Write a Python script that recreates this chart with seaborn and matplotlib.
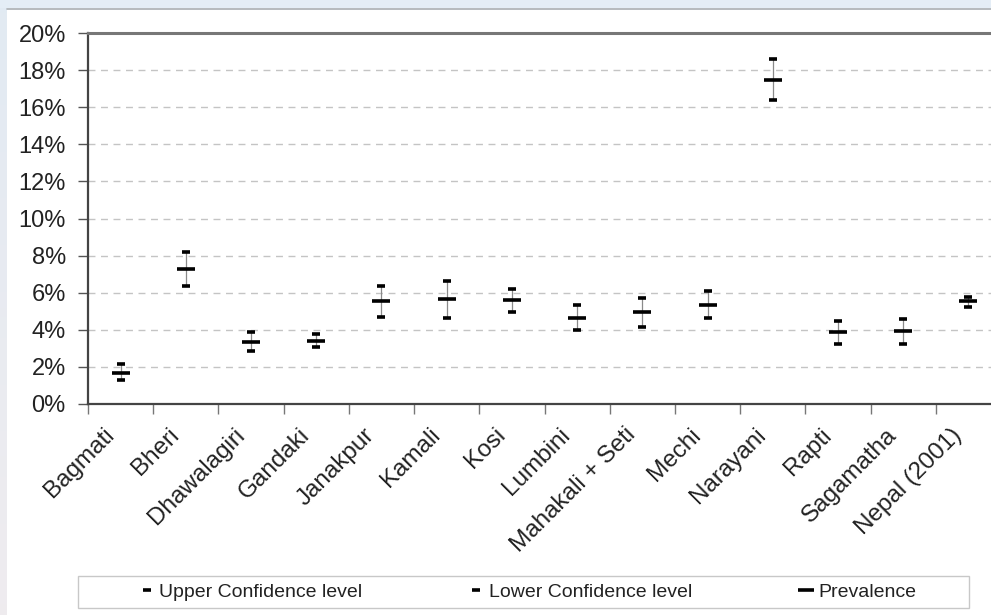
import numpy as np
import pandas as pd
import matplotlib
matplotlib.use("Agg")
import matplotlib.pyplot as plt
import matplotlib.transforms as mtransforms
from matplotlib.lines import Line2D
from matplotlib.patches import Rectangle
from matplotlib.ticker import FuncFormatter, FixedLocator
import seaborn as sns

# Prevalence by development region with 95% confidence limits
regions = ["Bagmati", "Bheri", "Dhawalagiri", "Gandaki", "Janakpur", "Kamali",
           "Kosi", "Lumbini", "Mahakali + Seti", "Mechi", "Narayani", "Rapti",
           "Sagamatha", "Nepal (2001)"]
prevalence = [1.69, 7.27, 3.32, 3.41, 5.55, 5.64, 5.62, 4.65, 4.94, 5.32,
              17.45, 3.86, 3.94, 5.55]
upper_cl = [2.14, 8.17, 3.86, 3.77, 6.37, 6.63, 6.22, 5.32, 5.70, 6.09,
            18.58, 4.49, 4.58, 5.77]
lower_cl = [1.29, 6.37, 2.87, 3.09, 4.71, 4.65, 4.94, 4.01, 4.17, 4.65,
            16.39, 3.25, 3.25, 5.25]
y_ticks = [0, 2, 4, 6, 8, 10, 12, 14, 16, 18, 20]
legend_labels = ["Upper Confidence level", "Lower Confidence level", "Prevalence"]

df = pd.DataFrame({
    "region": regions,
    "prevalence": np.array(prevalence) / 100,
    "upper": np.array(upper_cl) / 100,
    "lower": np.array(lower_cl) / 100,
})

sns.set_theme(style="white")
plt.rcParams["font.family"] = ["Liberation Sans", "DejaVu Sans"]

W, H = 991, 615
fig = plt.figure(figsize=(W / 100, H / 100), dpi=100, facecolor="white")

# Light frame around the white panel
fig.add_artist(Rectangle((0, 1 - 8 / H), 1, 8 / H, transform=fig.transFigure,
                         facecolor="#e4edf6", edgecolor="none", zorder=0))
fig.add_artist(Line2D([7 / W, 1], [1 - 8.5 / H, 1 - 8.5 / H], transform=fig.transFigure,
                      color="#a9aeb3", linewidth=1.2, zorder=1))
side = fig.add_axes([0, 0, 7 / W, 1 - 8 / H])
grad = np.linspace(0, 1, 256)[:, None, None]
top_c = np.array([0.886, 0.918, 0.953])
bot_c = np.array([0.937, 0.925, 0.937])
side.imshow(top_c * (1 - grad) + bot_c * grad, aspect="auto", extent=[0, 1, 0, 1])
side.set_axis_off()

ax = fig.add_axes([88 / W, 1 - 404 / H, (1001 - 88) / W, (404 - 33) / H])
ax.set_facecolor("white")

# Confidence range: thin vertical line from lower to upper limit
ax.vlines(df["region"], df["lower"], df["upper"], color="#8a8a8a", linewidth=0.9, zorder=2)

sns.scatterplot(data=df, x="region", y="upper", marker="_", s=30, linewidth=2.6,
                color="black", ax=ax, zorder=3, legend=False)
sns.scatterplot(data=df, x="region", y="lower", marker="_", s=30, linewidth=2.6,
                color="black", ax=ax, zorder=3, legend=False)
sns.scatterplot(data=df, x="region", y="prevalence", marker="_", s=150, linewidth=2.6,
                color="black", ax=ax, zorder=4, legend=False)

ax.set_xlim(-0.5, len(regions) - 0.5)
ax.set_ylim(0, 0.20)
ax.set_yticks(np.array(y_ticks) / 100)
ax.yaxis.set_major_formatter(FuncFormatter(lambda v, _: f"{v * 100:.0f}%"))
ax.set_xlabel("")
ax.set_ylabel("")

ax.yaxis.grid(True, linestyle=(0, (5, 4)), color="#c4c4c4", linewidth=1.0)
ax.set_axisbelow(True)

ax.tick_params(axis="y", which="major", direction="out", length=7, width=1,
               color="#555555", labelsize=17, labelcolor="#222222", pad=9, left=True)
ax.set_xticks(range(len(regions)))
ax.set_xticklabels(regions, rotation=45, ha="right", va="center",
                   rotation_mode="anchor", fontsize=17.5, color="#222222")
ax.tick_params(axis="x", which="major", length=0, pad=20)
shift = mtransforms.ScaledTranslation(-0.10, 0.0, fig.dpi_scale_trans)
for lbl in ax.get_xticklabels():
    lbl.set_transform(lbl.get_transform() + shift)
ax.xaxis.set_minor_locator(FixedLocator(np.arange(-0.5, len(regions), 1.0)))
ax.tick_params(axis="x", which="minor", direction="out", length=7, width=1,
               color="#777777", bottom=True)

for name in ["left", "bottom"]:
    ax.spines[name].set_color("#444444")
    ax.spines[name].set_linewidth(1.6)
ax.spines["top"].set_color("#777777")
ax.spines["top"].set_linewidth(2.2)
ax.spines["right"].set_visible(False)

# Legend in a plain box under the chart
fig.add_artist(Rectangle((78 / W, 1 - 608 / H), (969 - 78) / W, (608 - 576) / H,
                         transform=fig.transFigure, facecolor="white",
                         edgecolor="#c8c8c8", linewidth=1.0, zorder=1))
handles = [
    Line2D([], [], marker="_", markersize=6, markeredgewidth=2.6, linestyle="None", color="black"),
    Line2D([], [], marker="_", markersize=6, markeredgewidth=2.6, linestyle="None", color="black"),
    Line2D([], [], marker="_", markersize=11, markeredgewidth=2.6, linestyle="None", color="black"),
]
leg = fig.legend(handles, legend_labels, loc="center", ncol=3,
                 bbox_to_anchor=(528 / W, 1 - 592 / H), frameon=False,
                 fontsize=14, handlelength=0.7, handletextpad=0.3,
                 columnspacing=5.5)
for t in leg.get_texts():
    t.set_color("#222222")

fig.savefig("out.png", dpi=100, facecolor=fig.get_facecolor())
